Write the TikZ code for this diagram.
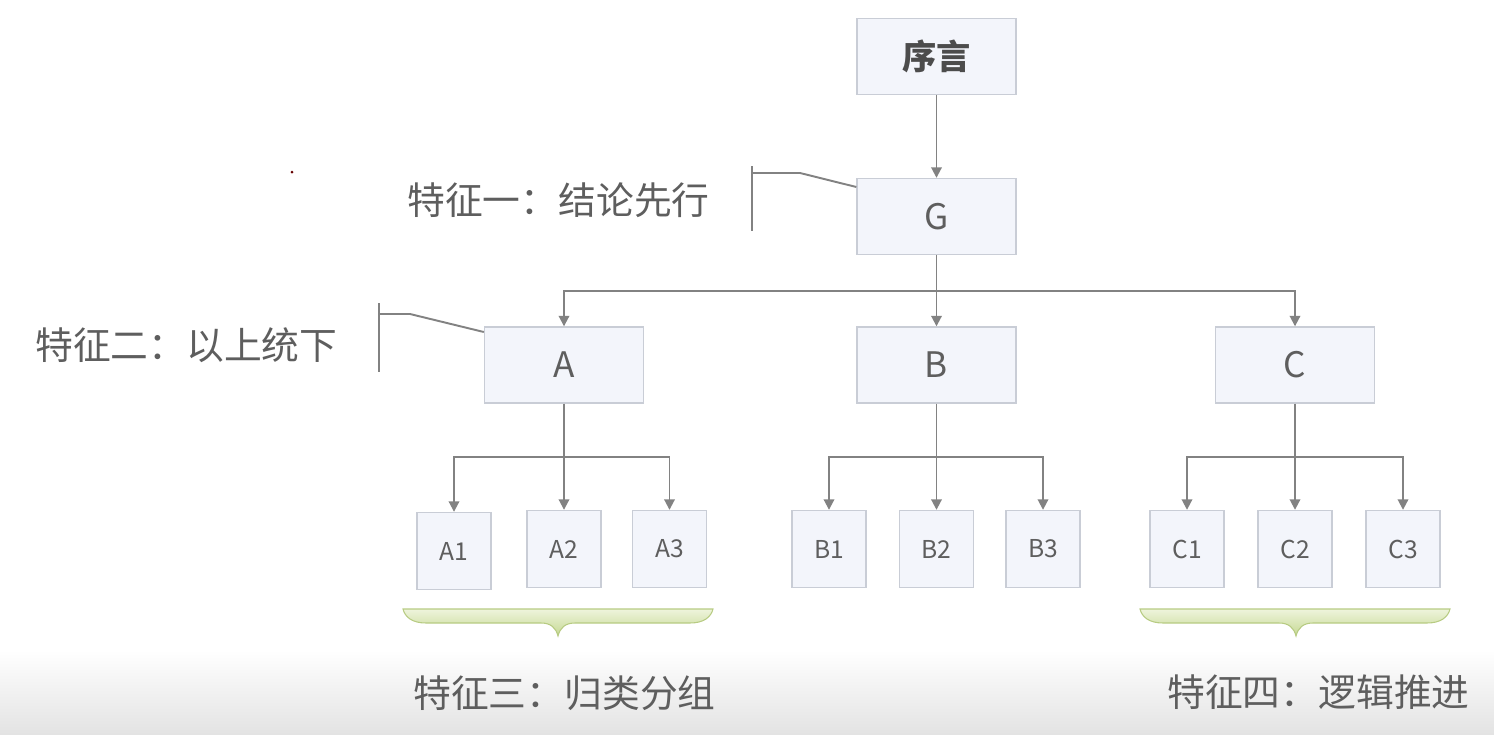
\documentclass[tikz,border=0pt]{standalone}
\usepackage{fontspec}
\setmainfont{Noto Sans CJK SC}
\usetikzlibrary{arrows.meta}
\definecolor{boxfill}{HTML}{F3F5FB}
\definecolor{boxline}{HTML}{C9CDD6}
\definecolor{linegray}{HTML}{828282}
\definecolor{txtgray}{HTML}{5E5E5E}
\definecolor{bracegreen}{HTML}{B7CB82}
\definecolor{bracetop}{HTML}{EEF4DC}
\definecolor{bracebot}{HTML}{C6D993}
\tikzset{
  bigbox/.style={draw=boxline, fill=boxfill, line width=0.8pt, minimum width=3.18cm, minimum height=1.52cm, inner sep=0pt, text=txtgray, font=\fontsize{20}{22}\selectfont},
  smallbox/.style={draw=boxline, fill=boxfill, line width=0.8pt, minimum width=1.48cm, minimum height=1.54cm, inner sep=0pt, text=txtgray, font=\fontsize{14}{16}\selectfont},
  arr/.style={draw=linegray, line width=1.1pt, -{Triangle[width=6pt,length=6pt]}},
  conn/.style={draw=linegray, line width=1.1pt},
  feat/.style={text=txtgray, font=\fontsize{21.5}{24}\selectfont, inner sep=0pt},
  hook/.style={draw=linegray, line width=1.1pt},
  brace/.style={draw=bracegreen, line width=0.6pt, top color=bracetop, bottom color=bracebot}
}
\begin{document}
\begin{tikzpicture}[x=0.02cm,y=-0.02cm]
\useasboundingbox (0,0) rectangle (1494,734);
% bottom shading
\shade[top color=white, bottom color=black!11, draw=none] (0,650) rectangle (1494,734);
\fill[red!40!black] (292,172) circle (1.5);
% boxes
\node[bigbox, font=\bfseries\fontsize{19.5}{21}\selectfont, text=black!70] (P) at (936.5,56.5) {序言};
\node[bigbox] (G) at (936.5,216.5) {G};
\node[bigbox] (A) at (564,365) {A};
\node[bigbox] (B) at (936.5,365) {B};
\node[bigbox] (C) at (1295,365) {C};
\node[smallbox] (A1) at (454,551) {A1};
\node[smallbox] (A2) at (564,549) {A2};
\node[smallbox] (A3) at (669.5,549) {A3};
\node[smallbox] (B1) at (829,549) {B1};
\node[smallbox] (B2) at (936.5,549) {B2};
\node[smallbox] (B3) at (1043,549) {B3};
\node[smallbox] (C1) at (1187,549) {C1};
\node[smallbox] (C2) at (1295,549) {C2};
\node[smallbox] (C3) at (1403,549) {C3};
% connectors
\draw[arr] (P) -- (G);
\coordinate (gbus) at (936.5,291);
\draw[conn] (G.south) -- (gbus);
\draw[arr] (gbus) -| (A.north);
\draw[arr] (gbus) -- (B.north);
\draw[arr] (gbus) -| (C.north);
\coordinate (Abus) at (564,457);
\coordinate (Bbus) at (936.5,457);
\coordinate (Cbus) at (1295,457);
\draw[conn] (A.south) -- (Abus);
\draw[arr] (Abus) -| (A1.north);
\draw[arr] (Abus) -- (A2.north);
\draw[arr] (Abus) -| (A3.north);
\draw[conn] (B.south) -- (Bbus);
\draw[arr] (Bbus) -| (B1.north);
\draw[arr] (Bbus) -- (B2.north);
\draw[arr] (Bbus) -| (B3.north);
\draw[conn] (C.south) -- (Cbus);
\draw[arr] (Cbus) -| (C1.north);
\draw[arr] (Cbus) -- (C2.north);
\draw[arr] (Cbus) -| (C3.north);
% feature labels
\node[feat, anchor=west] (f1) at (407,200) {特征一：结论先行};
\node[feat, anchor=west] (f2) at (35,345) {特征二：以上统下};
\node[feat, anchor=west] (f3) at (413,693) {特征三：归类分组};
\node[feat, anchor=west] (f4) at (1167,692) {特征四：逻辑推进};
% hooks
\coordinate (h1) at (752,173);
\draw[hook] (752,166) -- (752,231);
\draw[hook] (h1) -- (800,173) -- (G.west |- 0,187);
\coordinate (h2) at (379,314);
\draw[hook] (379,303) -- (379,372);
\draw[hook] (h2) -- (410,314) -- (A.west |- 0,332);
% braces
\path[brace] (403,609) -- (713,609) .. controls (711,617) and (704,623) .. (690,623)
  -- (575,623) .. controls (565,623) and (560,628) .. (558,636)
  .. controls (556,628) and (551,623) .. (541,623) -- (426,623)
  .. controls (412,623) and (405,617) .. (403,609) -- cycle;
\path[brace] (1140,609) -- (1450,609) .. controls (1448,617) and (1441,623) .. (1427,623)
  -- (1313,623) .. controls (1303,623) and (1298,628) .. (1296,636)
  .. controls (1294,628) and (1289,623) .. (1279,623) -- (1163,623)
  .. controls (1149,623) and (1142,617) .. (1140,609) -- cycle;
\end{tikzpicture}
\end{document}
